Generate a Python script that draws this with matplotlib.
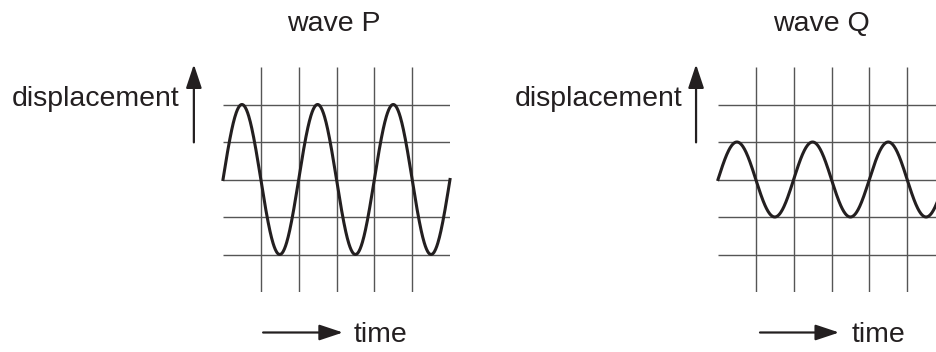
import numpy as np
import matplotlib
matplotlib.use("Agg")
import matplotlib.pyplot as plt

plt.rcParams['font.family'] = ['Liberation Sans', 'DejaVu Sans']

# wave data (grid units: one cell per square)
titles = ['wave P', 'wave Q']
amplitudes = [2, 1]        # cells
periods = [2, 2]           # cells
grid_width = 6             # cells
grid_rows = [-2, -1, 0, 1, 2]
grid_cols = [1, 2, 3, 4, 5]

ink = '#231f20'
gridc = '#555555'

W, H = 936, 352
fig = plt.figure(figsize=(W / 100, H / 100), dpi=100)

lefts = [223, 718]
# per panel text/arrow placement (grid units)
disp_arrow_x = [-0.77, -0.58]
disp_text_x = [-1.14, -0.95]
time_arrow_x0 = [1.06, 1.11]
time_arrow_x1 = [3.17, 3.20]
time_text_x = [3.44, 3.52]
title_x = [2.92, 2.74]

for i in range(2):
    ax = fig.add_axes([lefts[i] / W, 60 / H, 227 / W, 225 / H])
    ax.set_xlim(0, grid_width)
    ax.set_ylim(-3, 3)
    ax.axis('off')

    for r in grid_rows:
        ax.plot([0, grid_width], [r, r], color=gridc, lw=1.0, solid_capstyle='butt')
    for c in grid_cols:
        ax.plot([c, c], [-3, 3], color=gridc, lw=1.0, solid_capstyle='butt')

    t = np.linspace(0, grid_width, 600)
    y = amplitudes[i] * np.sin(2 * np.pi * t / periods[i])
    ax.plot(t, y, color=ink, lw=2.2, clip_on=False)

    # displacement arrow and label
    ax.annotate('', xy=(disp_arrow_x[i], 3.07), xytext=(disp_arrow_x[i], 0.99),
                arrowprops=dict(arrowstyle='-|>,head_length=0.72,head_width=0.24',
                                mutation_scale=20, lw=1.6, color=ink,
                                shrinkA=0, shrinkB=0),
                annotation_clip=False)
    ax.text(disp_text_x[i], 1.95, 'displacement', ha='right', va='baseline',
            fontsize=20.5, color=ink, clip_on=False)

    # time arrow and label
    ax.annotate('', xy=(time_arrow_x1[i], -4.08), xytext=(time_arrow_x0[i], -4.08),
                arrowprops=dict(arrowstyle='-|>,head_length=0.72,head_width=0.24',
                                mutation_scale=20, lw=1.6, color=ink,
                                shrinkA=0, shrinkB=0),
                annotation_clip=False)
    ax.text(time_text_x[i], -4.32, 'time', ha='left', va='baseline',
            fontsize=20.5, color=ink, clip_on=False)

    ax.text(title_x[i], 3.97, titles[i], ha='center', va='baseline',
            fontsize=20.5, color=ink, clip_on=False)

fig.savefig('out.png', dpi=100)
